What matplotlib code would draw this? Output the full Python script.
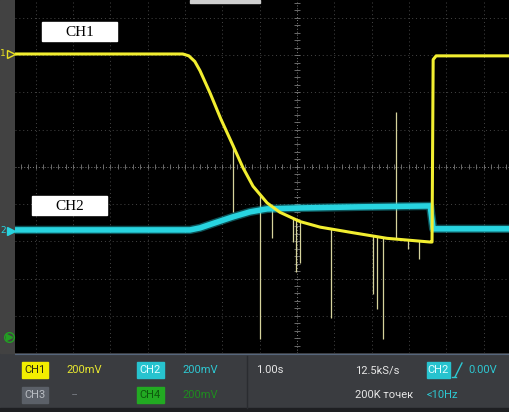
import numpy as np
import matplotlib.pyplot as plt
from matplotlib.patches import Rectangle

# scope settings: 1.00 s/div, CH1 and CH2 at 200 mV/div
volts_per_div = 0.2

# CH1 (yellow), time in s from screen centre, volts from its marker
ch1_t = [-7.6, -3.06, -2.90, -2.74, -2.60, -2.33, -2.04, -1.72, -1.45, -1.18,
         -0.80, -0.46, 0.08, 0.62, 1.50, 2.41, 3.57, 3.62, 3.65, 3.73, 5.8]
ch1_v = [0.0, 0.0, -0.01, -0.04, -0.09, -0.21, -0.35, -0.49, -0.61, -0.71,
         -0.80, -0.85, -0.90, -0.93, -0.96, -0.99, -1.01, -1.01, -0.03, -0.01, -0.01]

# CH2 (cyan)
ch2_t = [-7.6, -2.87, -2.60, -2.20, -1.72, -1.26, -0.80, 0.08, 1.69, 3.57, 3.65, 5.8]
ch2_v = [0.005, 0.005, 0.016, 0.043, 0.075, 0.102, 0.118, 0.123, 0.129, 0.134, 0.011, 0.011]

# glitches on CH1: time and the voltage the spike reaches
glitch_t = [-1.72, -0.99, -0.67, -0.11, -0.03, 0.08, 0.91, 2.04, 2.14, 2.31, 2.65, 2.98, 3.27]
glitch_v = [-0.85, -1.53, -0.99, -1.01, -1.17, -1.12, -1.42, -1.29, -1.37, -1.53, -0.31, -1.05, -1.10]

# marker positions on screen, divisions from centre
ch1_pos = 3.03
ch2_pos = -1.72
ch4_pos = -4.56

W, H = 510, 412
PANEL = '#3a3c40'
fig = plt.figure(figsize=(W / 100, H / 100), dpi=100, facecolor=PANEL)

# background: left strip with channel markers
bg = fig.add_axes([0, 0, 1, 1], zorder=0)
bg.set_xlim(0, W)
bg.set_ylim(H, 0)
bg.axis('off')
bg.add_patch(Rectangle((0, 0), 15, 353, color='#424242'))

# scope screen in divisions
ax = fig.add_axes([15 / W, (H - 353) / H, (W - 15) / W, 353 / H], zorder=1)
ax.set_facecolor('black')
x0, x1, y0, y1 = -7.56, 5.71, -5.0, 4.48
ax.set_xlim(x0, x1)
ax.set_ylim(y0, y1)
for s in ax.spines.values():
    s.set_visible(False)
ax.set_xticks([])
ax.set_yticks([])

for gx in range(-7, 6):
    if gx != 0:
        ax.axvline(gx, color='#464646', lw=0.7, ls=(0, (1, 3)), zorder=1)
for gy in range(-4, 5):
    if gy != 0:
        ax.axhline(gy, color='#464646', lw=0.7, ls=(0, (1, 3)), zorder=1)
ax.axvline(0, color='#7a7a7a', lw=0.7, ls=(0, (1, 2)), zorder=1)
ax.axhline(0, color='#7a7a7a', lw=0.7, ls=(0, (1, 2)), zorder=1)
tx = np.arange(-37, 29) * 0.2
ty = np.arange(-24, 23) * 0.2
ax.vlines(tx, -0.07, 0.07, color='#7a7a7a', lw=0.6, zorder=1)
ax.hlines(ty, -0.07, 0.07, color='#7a7a7a', lw=0.6, zorder=1)

y1_div = ch1_pos + np.array(ch1_v) / volts_per_div
y2_div = ch2_pos + np.array(ch2_v) / volts_per_div
g_start = ch1_pos + np.interp(glitch_t, ch1_t, ch1_v) / volts_per_div
g_end = ch1_pos + np.array(glitch_v) / volts_per_div

ax.vlines(glitch_t, g_start, g_end, color='#d6d39c', lw=0.9, zorder=2)
ax.plot(ch2_t, y2_div, color='#22cbd8', lw=6.0, alpha=0.4, zorder=3)
ax.plot(ch2_t, y2_div, color='#28d4e0', lw=4.0, zorder=3)
ax.plot(ch1_t, y1_div, color='#f2ee30', lw=2.2, zorder=4)

# channel markers on the left strip
mx = x0 - 0.12
ax.plot(mx, ch1_pos, marker='>', ms=6, mfc='none', mec='#e8e020', mew=1,
        clip_on=False, zorder=5)
ax.text(x0 - 0.32, ch1_pos, '1', color='#e8e020', fontsize=6.5,
        ha='center', va='center', clip_on=False, zorder=5)
ax.plot(mx, ch2_pos, marker='>', ms=6, color='#28d4e0', clip_on=False, zorder=5)
ax.text(x0 - 0.32, ch2_pos, '2', color='#28d4e0', fontsize=6.5,
        ha='center', va='center', clip_on=False, zorder=5)
ax.plot(mx - 0.05, ch4_pos, marker='o', ms=7, mfc='none', mec='#22a022',
        mew=1, clip_on=False, zorder=5)
ax.plot(mx - 0.03, ch4_pos, marker='>', ms=4, color='#22a022', clip_on=False, zorder=5)

# overlay: labels, status panel
ov = fig.add_axes([0, 0, 1, 1], zorder=2)
ov.set_xlim(0, W)
ov.set_ylim(H, 0)
ov.axis('off')
ov.patch.set_alpha(0)

ov.add_patch(Rectangle((190, 0), 70, 2.5, color='#cfcfcf'))
ov.add_patch(Rectangle((42, 22), 75, 19, color='white'))
ov.text(79.5, 32, 'CH1', family='Liberation Serif', fontsize=11,
        ha='center', va='center', color='black')
ov.add_patch(Rectangle((32, 196), 75, 19, color='white'))
ov.text(69.5, 206, 'CH2', family='Liberation Serif', fontsize=11,
        ha='center', va='center', color='black')

ov.plot([15, W], [353.5, 353.5], color='#56667c', lw=0.8)
ov.add_patch(Rectangle((0, 408), W, 4, color='#1e1f22'))
ov.plot([247, 247], [356, 408], color='#2a2c30', lw=1)

FONT = 'Roboto'


def box(x, y, w, label, face, tcol):
    ov.add_patch(Rectangle((x, y - 8), w, 16, color=face))
    ov.text(x + w / 2, y, label, family=FONT, fontsize=8, color=tcol,
            ha='center', va='center')


def txt(x, y, label, col):
    ov.text(x, y, label, family=FONT, fontsize=8, color=col,
            ha='left', va='center')


r1, r2 = 370, 395
box(22, r1, 26, 'CH1', '#f2ee00', '#2a2a10')
txt(66, r1, '200mV', '#e8e830')
box(137, r1, 27, 'CH2', '#27c3cf', '#dffcff')
txt(182, r1, '200mV', '#2ec8d2')
txt(256, r1, '1.00s', '#e6e6e6')
txt(355, r1, '12.5kS/s', '#e6e6e6')
box(427, r1, 23, 'CH2', '#27c3cf', '#dffcff')
ov.plot([455, 462], [377, 363], color='#2ec8d2', lw=1)
ov.plot([452, 456], [377, 377], color='#2ec8d2', lw=1)
txt(468, r1, '0.00V', '#2ec8d2')

box(22, r2, 26, 'CH3', '#5b6068', '#b8bcc2')
txt(72, r2, '--', '#7c8088')
box(137, r2, 27, 'CH4', '#22aa22', '#0e5a0e')
txt(182, r2, '200mV', '#1f8c1f')
txt(355, r2, '200K точек', '#e6e6e6')
txt(427, r2, '<10Hz', '#2ec8d2')

fig.savefig('out.png', dpi=100, facecolor=fig.get_facecolor())
